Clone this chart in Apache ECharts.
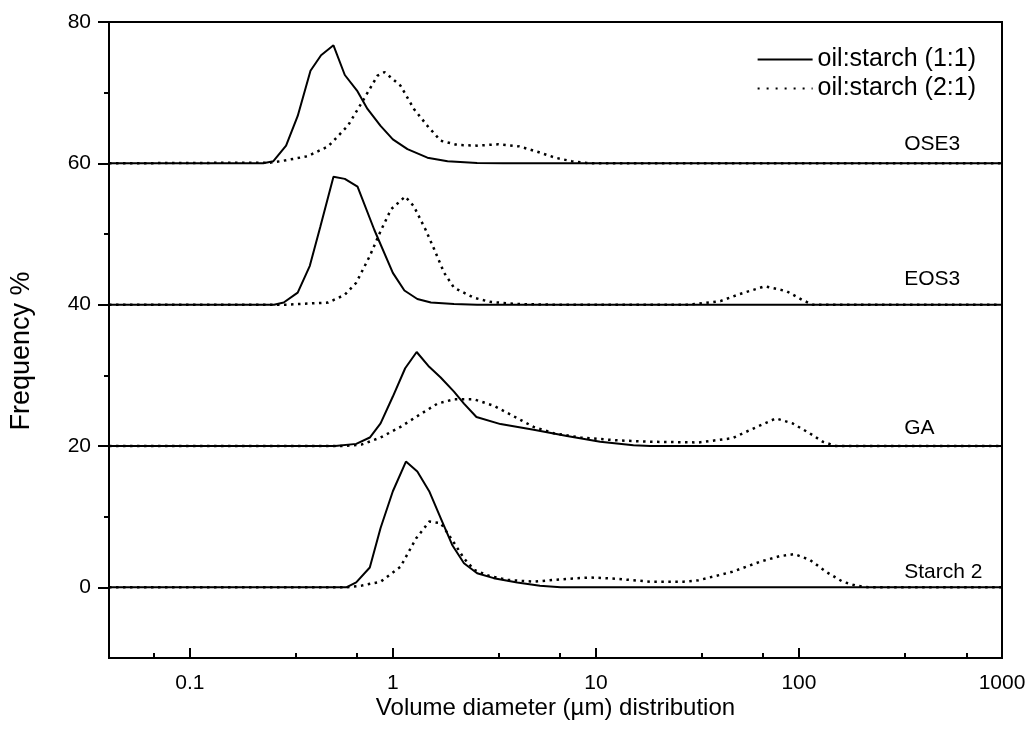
<!DOCTYPE html>
<html>
<head>
<meta charset="utf-8">
<script src="https://cdn.jsdelivr.net/npm/echarts@6/dist/echarts.min.js"></script>
<style>html,body{margin:0;padding:0;background:#fff;}#c{width:1031px;height:744px;}</style>
</head>
<body>
<div id="c"></div>
<script>
// ---- data (x = volume diameter in µm, y = frequency % incl. vertical offset) ----
const NAME_11 = 'oil:starch (1:1)';
const NAME_21 = 'oil:starch (2:1)';

const ose3_11 = [[0.04,60],[0.23,60],[0.258,60.3],[0.298,62.5],[0.34,66.7],[0.393,73.1],[0.443,75.3],[0.51,76.7],[0.58,72.5],[0.666,70.3],[0.75,67.7],[0.87,65.3],[1.0,63.4],[1.18,62.0],[1.48,60.8],[1.86,60.3],[2.6,60.05],[3.5,60],[1000,60]];
const ose3_21 = [[0.04,60],[0.25,60.1],[0.28,60.3],[0.38,61.0],[0.48,62.4],[0.6,65.3],[0.72,69.1],[0.84,72.4],[0.91,72.9],[1.09,71.0],[1.27,67.7],[1.48,65.3],[1.72,63.2],[2.08,62.6],[2.6,62.5],[3.3,62.7],[4.2,62.4],[5.2,61.6],[6.3,60.8],[7.6,60.3],[9,60.05],[10,60],[1000,60]];

const eos3_11 = [[0.04,40],[0.26,40],[0.29,40.3],[0.34,41.7],[0.39,45.5],[0.44,51.1],[0.51,58.1],[0.58,57.8],[0.67,56.7],[0.81,50.6],[1.0,44.5],[1.14,42.0],[1.32,40.8],[1.54,40.3],[2.0,40.1],[2.6,40],[1000,40]];
const eos3_21 = [[0.04,40],[0.3,40],[0.48,40.3],[0.58,41.4],[0.66,43.1],[0.77,46.9],[0.87,50.4],[0.98,53.5],[1.15,55.3],[1.27,53.9],[1.45,50.6],[1.6,47.8],[1.79,44.5],[2.0,42.4],[2.5,41.0],[3.0,40.4],[4,40.1],[6,40],[29,40],[41,40.5],[51,41.5],[68,42.6],[87,41.9],[105,40.6],[117,40],[1000,40]];

const ga_11 = [[0.04,20],[0.52,20],[0.66,20.3],[0.77,21.2],[0.87,23.2],[1.0,27.0],[1.15,31.0],[1.31,33.3],[1.51,31.2],[1.72,29.7],[2.0,27.7],[2.24,26.0],[2.58,24.1],[3.39,23.1],[4.94,22.3],[7.2,21.4],[10.5,20.6],[15.3,20.1],[18.5,20],[1000,20]];
const ga_21 = [[0.04,20],[0.58,20],[0.7,20.2],[0.87,21.2],[1.09,22.7],[1.35,24.4],[1.66,26.0],[2.0,26.6],[2.51,26.6],[3.14,25.7],[3.94,24.2],[4.94,22.7],[6.2,21.8],[8.4,21.2],[12.7,20.8],[18.5,20.6],[32,20.5],[47,21.1],[62,22.7],[77,23.9],[93,23.2],[113,21.8],[131,20.6],[152,20],[1000,20]];

const starch_11 = [[0.04,0],[0.59,0],[0.66,0.7],[0.77,2.8],[0.87,8.4],[1.0,13.6],[1.16,17.8],[1.32,16.4],[1.51,13.6],[1.72,9.8],[1.96,6.0],[2.24,3.4],[2.6,2.0],[3.14,1.3],[4.1,0.67],[5.3,0.24],[6.7,0],[1000,0]];
const starch_21 = [[0.04,0],[0.59,0],[0.7,0.24],[0.87,0.8],[1.09,2.9],[1.3,6.9],[1.51,9.3],[1.72,9.1],[1.96,6.7],[2.24,4.1],[2.51,2.5],[2.92,1.7],[3.66,1.05],[4.94,0.8],[7.2,1.2],[9.4,1.4],[12.7,1.2],[18.5,0.8],[27,0.8],[32,1.0],[47,2.2],[64,3.6],[80,4.4],[95,4.7],[113,3.9],[136,2.2],[164,0.8],[191,0.24],[222,0],[1000,0]];

const sampleLabels = [['OSE3',330,62.7],['EOS3',330,43.6],['GA',330,22.5],['Starch 2',330,2.2]];

const xMajorTicks = [0.1,1,10,100,1000];
const xMinorTicks = [0.0667,0.333,0.667,3.33,6.67,33.3,66.7,333,667];
const yMajorTicks = [0,20,40,60,80];
const yMinorTicks = [10,30,50,70];

// ---- chart ----
const FONT = 'Liberation Sans, Arial, Helvetica, sans-serif';
const chart = echarts.init(document.getElementById('c'), null, {renderer:'canvas'});

function solid(data){ return {type:'line', name:NAME_11, data:data, symbol:'none', smooth:false, lineStyle:{color:'#000', width:2, type:'solid'}, itemStyle:{color:'#000'}, z:3}; }
function dotted(data){ return {type:'line', name:NAME_21, data:data, symbol:'none', smooth:false, lineStyle:{color:'#000', width:2.5, type:[2.5,4.5]}, itemStyle:{color:'#000'}, z:2}; }

chart.setOption({
  animation:false,
  backgroundColor:'#fff',
  textStyle:{fontFamily:FONT, color:'#000'},
  grid:{left:107, right:29, top:22, bottom:86, show:true, borderColor:'#000', borderWidth:2, backgroundColor:'transparent'},
  legend:{
    orient:'vertical', right:50, top:42, itemWidth:55, itemHeight:14, itemGap:4,
    data:[{name:NAME_11}, {name:NAME_21, lineStyle:{type:[2,7], width:2}}],
    itemStyle:{color:'transparent', borderWidth:0, opacity:0},
    textStyle:{fontSize:25, color:'#000', fontFamily:FONT}
  },
  xAxis:[{
    type:'log', logBase:10, min:0.04, max:1000,
    name:'Volume diameter (µm) distribution', nameLocation:'middle', nameGap:38, nameMoveOverlap:false,
    nameTextStyle:{fontSize:24, color:'#000', fontFamily:FONT},
    axisLine:{show:true, onZero:false, lineStyle:{color:'#000', width:2}},
    axisTick:{show:true, inside:true, length:10, customValues:xMajorTicks, lineStyle:{color:'#000', width:2}},
    axisLabel:{show:true, customValues:xMajorTicks, fontSize:21, margin:15, color:'#000', fontFamily:FONT,
      formatter:function(v){ return String(+Number(v).toPrecision(6)); }},
    splitLine:{show:false}, minorTick:{show:false}
  },{
    type:'log', logBase:10, min:0.04, max:1000, position:'bottom',
    axisLine:{show:false, onZero:false},
    axisTick:{show:true, inside:true, length:5, customValues:xMinorTicks, lineStyle:{color:'#000', width:2}},
    axisLabel:{show:false}, splitLine:{show:false}
  }],
  yAxis:[{
    type:'value', min:-10, max:80, interval:10, position:'left',
    name:'Frequency %', nameLocation:'middle', nameGap:74, nameMoveOverlap:false,
    nameTextStyle:{fontSize:27, color:'#000', fontFamily:FONT, padding:[0,22,0,0]},
    axisLine:{show:true, onZero:false, lineStyle:{color:'#000', width:2}},
    axisTick:{show:true, inside:false, length:11, customValues:yMajorTicks, lineStyle:{color:'#000', width:2}},
    axisLabel:{show:true, customValues:yMajorTicks, fontSize:21, margin:18, color:'#000', fontFamily:FONT},
    splitLine:{show:false}
  },{
    type:'value', min:-10, max:80, interval:10, position:'left',
    axisLine:{show:false, onZero:false},
    axisTick:{show:true, inside:false, length:5, customValues:yMinorTicks, lineStyle:{color:'#000', width:2}},
    axisLabel:{show:false}, splitLine:{show:false}
  }],
  series:[
    solid(ose3_11), dotted(ose3_21),
    solid(eos3_11), dotted(eos3_21),
    solid(ga_11), dotted(ga_21),
    solid(starch_11), dotted(starch_21),
    {
      type:'scatter', name:'labels', symbolSize:0, silent:true,
      itemStyle:{opacity:1, color:'#000'},
      data:sampleLabels.map(function(d){ return {name:d[0], value:[d[1], d[2]]}; }),
      label:{show:true, position:'right', distance:0, formatter:'{b}', fontSize:21, color:'#000', opacity:1, fontFamily:FONT},
      z:5
    }
  ]
});
</script>
</body>
</html>
